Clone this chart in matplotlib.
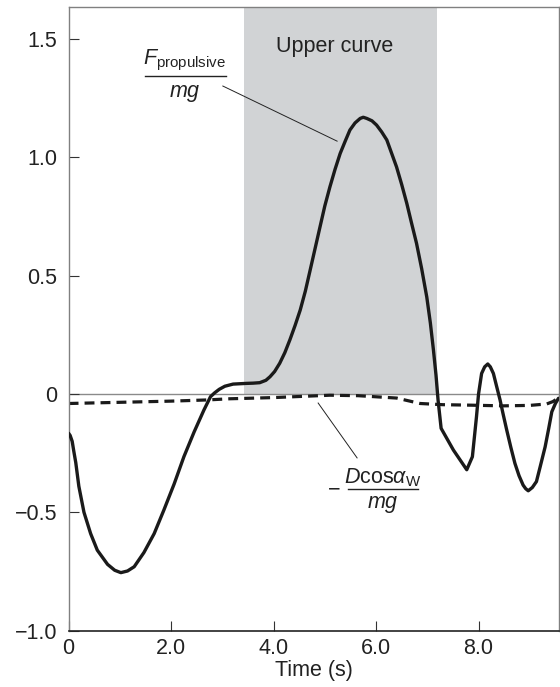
import matplotlib
matplotlib.use("Agg")
import matplotlib.pyplot as plt

plt.rcParams['font.family'] = ['Liberation Sans', 'DejaVu Sans']
plt.rcParams['mathtext.fontset'] = 'custom'
plt.rcParams['mathtext.rm'] = 'Liberation Sans'
plt.rcParams['mathtext.it'] = 'Liberation Sans:italic'
plt.rcParams['mathtext.bf'] = 'Liberation Sans:bold'
plt.rcParams['mathtext.sf'] = 'Liberation Sans'

# Solid curve: F_propulsive / mg
t_prop = [0.00, 0.03, 0.07, 0.10, 0.14, 0.20, 0.30, 0.43, 0.56, 0.76, 0.90, 1.02,
          1.15, 1.28, 1.47, 1.67, 1.86, 2.06, 2.25, 2.45, 2.64, 2.77, 2.85, 2.94,
          3.05, 3.21, 3.47, 3.60, 3.73, 3.85, 3.93, 4.02, 4.12, 4.22, 4.32, 4.42,
          4.52, 4.62, 4.71, 4.81, 4.91, 5.00, 5.10, 5.20, 5.30, 5.40, 5.49, 5.59,
          5.69, 5.75, 5.82, 5.92, 6.01, 6.11, 6.21, 6.30, 6.40, 6.50, 6.60, 6.69,
          6.79, 6.89, 6.99, 7.06, 7.12, 7.17, 7.21, 7.27, 7.51, 7.77, 7.88, 7.96,
          8.00, 8.06, 8.12, 8.18, 8.23, 8.29, 8.35, 8.42, 8.48, 8.55, 8.63, 8.71,
          8.79, 8.87, 8.92, 8.97, 9.05, 9.13, 9.20, 9.30, 9.37, 9.43, 9.50, 9.56]
f_prop = [-0.166, -0.175, -0.20, -0.24, -0.29, -0.39, -0.50, -0.59, -0.66, -0.72,
          -0.745, -0.755, -0.748, -0.73, -0.67, -0.59, -0.49, -0.38, -0.265, -0.16,
          -0.068, -0.011, 0.005, 0.02, 0.033, 0.042, 0.045, 0.046, 0.048, 0.058,
          0.073, 0.095, 0.13, 0.175, 0.23, 0.29, 0.355, 0.435, 0.52, 0.615, 0.71,
          0.795, 0.876, 0.95, 1.017, 1.07, 1.116, 1.146, 1.165, 1.17, 1.165, 1.155,
          1.137, 1.108, 1.074, 1.02, 0.96, 0.886, 0.806, 0.725, 0.637, 0.53, 0.41,
          0.30, 0.186, 0.08, -0.025, -0.145, -0.237, -0.32, -0.265, -0.096, 0.00,
          0.087, 0.115, 0.127, 0.115, 0.087, 0.035, -0.025, -0.085, -0.152, -0.225,
          -0.293, -0.345, -0.385, -0.40, -0.409, -0.395, -0.37, -0.31, -0.223,
          -0.145, -0.075, -0.04, -0.018]

# Dashed curve: -D cos(alpha_W) / mg
t_drag = [0.0, 1.0, 2.0, 2.7, 3.15, 4.0, 5.1, 5.65, 6.4, 6.86, 7.3, 7.83, 8.48,
          9.0, 9.33, 9.45, 9.52, 9.58]
f_drag = [-0.04, -0.035, -0.03, -0.025, -0.02, -0.015, -0.005, -0.007, -0.017,
          -0.04, -0.045, -0.047, -0.05, -0.048, -0.042, -0.032, -0.022, -0.014]

shade_span = (3.42, 7.18)
x_ticks = [0, 2, 4, 6, 8]
x_ticklabels = ['0', '2.0', '4.0', '6.0', '8.0']
y_ticks = [-1.0, -0.5, 0, 0.5, 1.0, 1.5]
y_ticklabels = ['\u22121.0', '\u22120.5', '0', '0.5', '1.0', '1.5']

FS = 15.5
TXT = '#222222'

fig = plt.figure(figsize=(5.6, 6.87), dpi=100)
ax = fig.add_axes([0.1225, 0.0821, 0.8766, 0.907])

ax.set_xlim(0, 9.58)
ax.set_ylim(-1.0, 1.634)

ax.fill_between(shade_span, 0, 1.634, color='#d1d3d5', lw=0, zorder=0)
ax.axhline(0, color='#8a8a8a', lw=1.0, zorder=1)

ax.plot(t_prop, f_prop, color='#1a1a1a', lw=2.4, solid_joinstyle='round',
        solid_capstyle='round', zorder=3)
dl, = ax.plot(t_drag, f_drag, color='#1a1a1a', lw=2.3, zorder=2)
dl.set_dashes([3.1, 1.9])

ax.set_xticks(x_ticks)
ax.set_xticklabels(x_ticklabels)
ax.set_yticks(y_ticks)
ax.set_yticklabels(y_ticklabels)
ax.tick_params(direction='in', length=7.2, width=0.8, color='#333333',
               labelsize=FS, labelcolor=TXT)
ax.tick_params(axis='x', pad=5)
ax.tick_params(axis='y', pad=8)

for side in ['top', 'right', 'left']:
    ax.spines[side].set_color('#808080')
    ax.spines[side].set_linewidth(1.0)
ax.spines['bottom'].set_color('#222222')
ax.spines['bottom'].set_linewidth(1.2)

ax.set_xlabel('Time (s)', fontsize=FS, color=TXT, labelpad=1)

ax.text(5.2, 1.47, 'Upper curve', fontsize=FS, color=TXT,
        ha='center', va='center')

# upper label: F_propulsive / mg
ax.text(2.27, 1.392, r'$F_{\mathrm{propulsive}}$', fontsize=FS, color=TXT,
        ha='center', va='baseline')
ax.plot([1.483, 3.065], [1.345, 1.345], color=TXT, lw=1.0)
ax.text(2.27, 1.255, r'$mg$', fontsize=FS, color=TXT, ha='center', va='baseline')
ax.plot([3.01, 5.24], [1.302, 1.069], color=TXT, lw=0.7)

# lower label: - D cos(alpha_W) / mg
ax.text(5.19, -0.406, '\u2212', fontsize=FS, color=TXT, ha='center',
        va='center')
ax.text(6.13, -0.378, r'$D\mathrm{cos}\alpha_{\mathrm{W}}$', fontsize=FS,
        color=TXT, ha='center', va='baseline')
ax.plot([5.45, 6.82], [-0.402, -0.402], color=TXT, lw=1.0)
ax.text(6.13, -0.482, r'$mg$', fontsize=FS, color=TXT, ha='center', va='baseline')
ax.plot([4.87, 5.63], [-0.038, -0.27], color=TXT, lw=0.7)

fig.savefig('out.png', dpi=100)
